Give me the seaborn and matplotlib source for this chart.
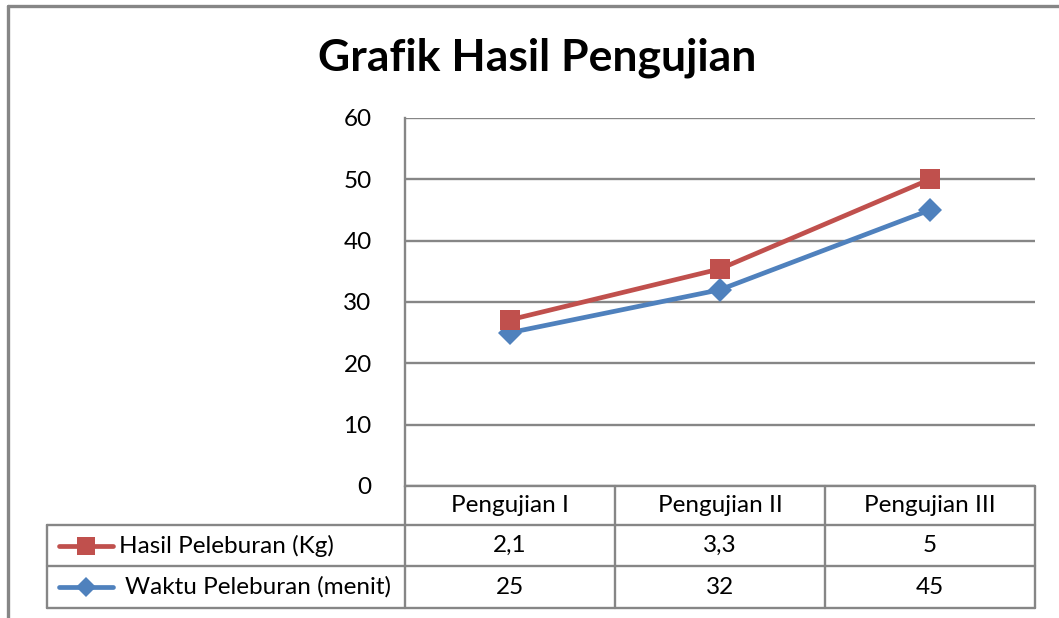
import matplotlib
matplotlib.use("Agg")
import matplotlib.pyplot as plt
import seaborn as sns
import pandas as pd
from matplotlib.lines import Line2D

categories = ["Pengujian I", "Pengujian II", "Pengujian III"]
hasil_plot = [27.1, 35.4, 50.0]
waktu_plot = [25, 32, 45]
hasil_labels = ["2,1", "3,3", "5"]
waktu_labels = ["25", "32", "45"]
series_names = ["Hasil Peleburan (Kg)", "Waktu Peleburan (menit)"]
yticks = [0, 10, 20, 30, 40, 50, 60]

RED = "#C0504D"
BLUE = "#4F81BD"
GRID = "#868686"

sns.set_style("white")
plt.rcParams["font.family"] = ["Lato", "DejaVu Sans"]
plt.rcParams["text.color"] = "black"
plt.rcParams["ytick.color"] = "black"

W, H = 1059, 618
fig = plt.figure(figsize=(W / 100, H / 100), dpi=100)

def fx(x):
    return x / W

def fy(y):
    return 1 - y / H

ax_l, ax_r, ax_t, ax_b = 405, 1035, 118, 486
ax = fig.add_axes([fx(ax_l), fy(ax_b), fx(ax_r - ax_l), (ax_b - ax_t) / H])

df = pd.DataFrame({"cat": categories, "hasil": hasil_plot, "waktu": waktu_plot})
sns.lineplot(data=df, x="cat", y="hasil", ax=ax, color=RED, lw=3.4, marker="s",
             markersize=14, markeredgewidth=0, sort=False, zorder=4)
sns.lineplot(data=df, x="cat", y="waktu", ax=ax, color=BLUE, lw=3.4, marker="D",
             markersize=12, markeredgewidth=0, sort=False, zorder=3)

fs = 17.5

ax.set_xlim(-0.5, 2.5)
ax.set_ylim(0, 60)
ax.set_yticks(yticks)
ax.set_yticklabels([str(v) for v in yticks], fontsize=fs)
ax.tick_params(axis="y", length=0, pad=24, colors="black")
ax.set_xticks([])
ax.set_xlabel("")
ax.set_ylabel("")
ax.grid(axis="y", color=GRID, lw=1.7)
ax.set_axisbelow(True)
for s in ["top", "right", "bottom"]:
    ax.spines[s].set_visible(False)
ax.spines["left"].set_color(GRID)
ax.spines["left"].set_linewidth(1.7)

def hline(y, x0, x1, lw=1.7):
    fig.add_artist(Line2D([fx(x0), fx(x1)], [fy(y), fy(y)], color=GRID, lw=lw,
                          transform=fig.transFigure))

def vline(x, y0, y1, lw=1.7):
    fig.add_artist(Line2D([fx(x), fx(x)], [fy(y0), fy(y1)], color=GRID, lw=lw,
                          transform=fig.transFigure))

# outer frame
hline(6, 8, W, lw=2.4)
vline(8, 6, H, lw=2.4)

# data table
rows_y = [486, 525, 566, 608]
cols_x = [405, 615, 825, 1035]
hline(486, 405, 1035)
for y in rows_y[1:]:
    hline(y, 47, 1035)
vline(47, 525, 608)
for x in cols_x:
    vline(x, 486, 608)

for i, c in enumerate(categories):
    xc = (cols_x[i] + cols_x[i + 1]) / 2
    fig.text(fx(xc), fy((rows_y[0] + rows_y[1]) / 2), c, ha="center", va="center", fontsize=fs)
    fig.text(fx(xc), fy((rows_y[1] + rows_y[2]) / 2), hasil_labels[i], ha="center", va="center", fontsize=fs)
    fig.text(fx(xc), fy((rows_y[2] + rows_y[3]) / 2), waktu_labels[i], ha="center", va="center", fontsize=fs)

# legend keys in table
for r, (col, mk, ms) in enumerate([(RED, "s", 12.5), (BLUE, "D", 10.5)]):
    yc = (rows_y[r + 1] + rows_y[r + 2]) / 2
    fig.add_artist(Line2D([fx(59), fx(113)], [fy(yc), fy(yc)], color=col, lw=3.4,
                          solid_capstyle="round", transform=fig.transFigure))
    fig.add_artist(Line2D([fx(86)], [fy(yc)], color=col, marker=mk, markersize=ms,
                          markeredgewidth=0, transform=fig.transFigure))
fig.text(fx(119), fy((rows_y[1] + rows_y[2]) / 2), series_names[0], ha="left", va="center", fontsize=fs)
fig.text(fx(125), fy((rows_y[2] + rows_y[3]) / 2), series_names[1], ha="left", va="center", fontsize=fs)

fig.text(fx(537), fy(58), "Grafik Hasil Pengujian", ha="center", va="center",
         fontsize=32, fontweight="bold")

fig.savefig("out.png", dpi=100)
